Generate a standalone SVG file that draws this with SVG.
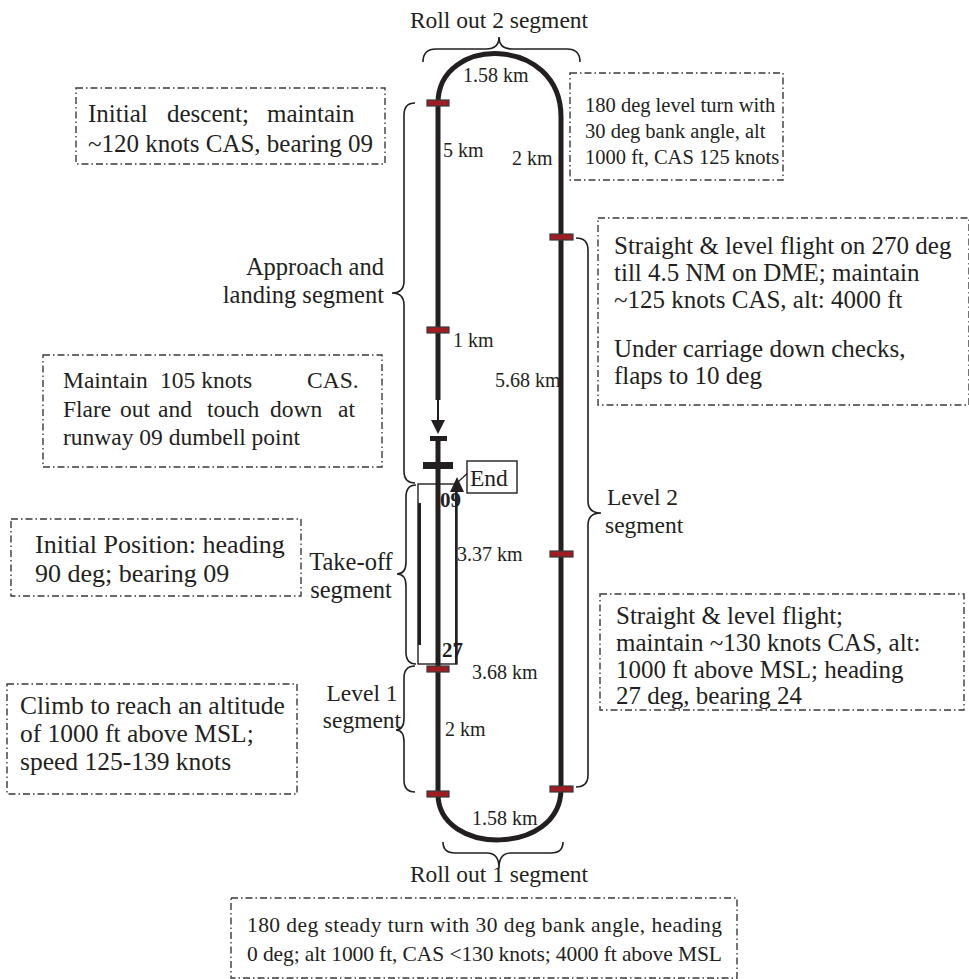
<svg xmlns="http://www.w3.org/2000/svg" width="969" height="979" viewBox="0 0 969 979">
<style>
.t{font-family:"Liberation Serif","Times New Roman",serif;fill:#231f20;font-size:23.5px}
.L{font-size:25px}
.s{font-size:20px}
.b{font-weight:bold;font-size:21px}
.box{fill:none;stroke:#3a3a3a;stroke-width:1.4;stroke-dasharray:7 3 1.5 3}
.track{fill:none;stroke:#231f20;stroke-width:5}
.mk{fill:#9e1c22;stroke:#3a3a3a;stroke-width:1.2}
.br{fill:none;stroke:#231f20;stroke-width:1.6}
.thin{fill:none;stroke:#231f20;stroke-width:1.5}
</style>
<rect width="969" height="979" fill="#fff"/>
<g id="connectors">
  <path class="track" d="M438,103 C438,35 561,35 561,117 L561,789 C561,856 438,856 438,794"/>
  <path class="track" d="M438,103 L438,400"/>
  <path class="thin" d="M438,400 L438,422" style="stroke-width:2"/>
  <polygon points="431,420 445,420 438,434" fill="#231f20"/>
  <path class="track" d="M438,438 L438,794"/>
  <rect x="430" y="436" width="17" height="5" fill="#231f20"/>
  <rect x="423" y="462" width="30" height="7" fill="#231f20"/>
  <rect x="418" y="484" width="39" height="180" class="thin" style="stroke-width:1.4"/>
  <path class="thin" d="M419.5,503 L419.5,645" style="stroke-width:3"/>
  <path class="thin" d="M456,664 L456,490" style="stroke-width:2"/>
  <polygon points="457,477 450,492 464,492" fill="#231f20"/>
  <path class="thin" d="M458,482 L472,469" style="stroke-width:1.2"/>
  <path class="br" d="M423,62 Q423,49 436,49 L486,49 Q499,49 499,37 Q499,49 512,49 L567,49 Q580,49 580,62"/>
  <path class="br" d="M443,842 Q443,853 455,853 L487,853 Q499,853 499,868 Q499,853 511,853 L551,853 Q563,853 563,842"/>
  <path class="br" d="M415,103 Q404,103 404,115 L404,281 Q404,293 392,293 Q404,293 404,305 L404,471 Q404,483 415,483"/>
  <path class="br" d="M416,485 Q406,485 406,497 L406,562 Q406,574 397,574 Q406,574 406,586 L406,652 Q406,664 416,664"/>
  <path class="br" d="M415,666 Q404,666 404,678 L404,718 Q404,730 396,730 Q404,730 404,742 L404,780 Q404,792 415,792"/>
  <path class="br" d="M576,238 Q588,238 588,250 L588,501 Q588,513 601,513 Q588,513 588,525 L588,775 Q588,787 576,787"/>
</g>
<g id="markers">
  <rect class="mk" x="427" y="100" width="22" height="6"/>
  <rect class="mk" x="427" y="327" width="22" height="6"/>
  <rect class="mk" x="427" y="666" width="22" height="6"/>
  <rect class="mk" x="427" y="791" width="22" height="6"/>
  <rect class="mk" x="550" y="234" width="23" height="6"/>
  <rect class="mk" x="550" y="551" width="23" height="6"/>
  <rect class="mk" x="550" y="786" width="23" height="6"/>
</g>
<g id="labels">
  <text class="t" x="499" y="28" text-anchor="middle">Roll out 2 segment</text>
  <text class="t s" x="463" y="82">1.58 km</text>
  <text class="t s" x="512" y="165">2 km</text>
  <text class="t s" x="443" y="157">5 km</text>
  <text class="t s" x="453" y="347">1 km</text>
  <text class="t s" x="495" y="387">5.68 km</text>
  <text class="t b" x="440" y="507">09</text>
  <text class="t s" x="457" y="561">3.37 km</text>
  <text class="t b" x="442" y="657">27</text>
  <text class="t s" x="472" y="679">3.68 km</text>
  <text class="t s" x="445" y="736">2 km</text>
  <text class="t s" x="472" y="825">1.58 km</text>
  <text class="t" x="499" y="882" text-anchor="middle">Roll out 1 segment</text>
  <text class="t" x="384" y="275" text-anchor="end" style="font-size:24.5px">Approach and</text>
  <text class="t" x="384" y="303" text-anchor="end" style="font-size:24.5px">landing segment</text>
  <text class="t" x="351" y="570" text-anchor="middle" style="font-size:24.5px">Take-off</text>
  <text class="t" x="351" y="598" text-anchor="middle" style="font-size:24.5px">segment</text>
  <text class="t" x="362" y="701" text-anchor="middle">Level 1</text>
  <text class="t" x="362" y="728" text-anchor="middle">segment</text>
  <text class="t" x="607" y="505">Level 2</text>
  <text class="t" x="605" y="533">segment</text>
</g>
<g id="end">
  <rect x="467" y="461" width="50" height="32" fill="#fff" stroke="#231f20" stroke-width="1.4"/>
  <text class="t" x="470" y="486">End</text>
</g>
<g id="box1">
  <rect class="box" x="76" y="88" width="309" height="76"/>
  <text class="t L" y="122"><tspan x="88">Initial</tspan><tspan x="167">descent;</tspan><tspan x="267">maintain</tspan></text>
  <text class="t L" x="88" y="152">~120 knots CAS, bearing 09</text>
</g>
<g id="box2">
  <rect class="box" x="570" y="73" width="213" height="107"/>
  <text class="t" x="585" y="112" style="font-size:20.5px">180 deg level turn with</text>
  <text class="t" x="585" y="138" style="font-size:20.5px">30 deg bank angle, alt</text>
  <text class="t" x="585" y="164" style="font-size:20.5px">1000 ft, CAS 125 knots</text>
</g>
<g id="box3">
  <rect class="box" x="598" y="218" width="371" height="187"/>
  <text class="t L" x="614" y="254">Straight &amp; level flight on 270 deg</text>
  <text class="t L" x="614" y="281">till 4.5 NM on DME; maintain</text>
  <text class="t L" x="614" y="308">~125 knots CAS, alt: 4000 ft</text>
  <text class="t L" x="614" y="357">Under carriage down checks,</text>
  <text class="t L" x="614" y="384">flaps to 10 deg</text>
</g>
<g id="box4">
  <rect class="box" x="43" y="355" width="339" height="112"/>
  <text class="t" y="388"><tspan x="63">Maintain</tspan><tspan x="160">105 knots</tspan><tspan x="307">CAS.</tspan></text>
  <text class="t" y="417"><tspan x="63">Flare</tspan><tspan x="120">out</tspan><tspan x="158">and</tspan><tspan x="207">touch</tspan><tspan x="270">down</tspan><tspan x="338">at</tspan></text>
  <text class="t" x="63" y="445">runway 09 dumbell point</text>
</g>
<g id="box5">
  <rect class="box" x="11" y="519" width="290" height="77"/>
  <text class="t" x="35" y="553" style="font-size:26px">Initial Position: heading</text>
  <text class="t" x="35" y="582" style="font-size:26px">90 deg; bearing 09</text>
</g>
<g id="box6">
  <rect class="box" x="600" y="594" width="364" height="116"/>
  <text class="t L" x="616" y="624">Straight &amp; level flight;</text>
  <text class="t L" x="616" y="651">maintain ~130 knots CAS, alt:</text>
  <text class="t L" x="616" y="678">1000 ft above MSL; heading</text>
  <text class="t L" x="616" y="704">27 deg, bearing 24</text>
</g>
<g id="box7">
  <rect class="box" x="7" y="684" width="290" height="110"/>
  <text class="t" x="20" y="714" style="font-size:25.5px">Climb to reach an altitude</text>
  <text class="t" x="20" y="742" style="font-size:25.5px">of 1000 ft above MSL;</text>
  <text class="t" x="20" y="770" style="font-size:25.5px">speed 125-139 knots</text>
</g>
<g id="box8">
  <rect class="box" x="231" y="898" width="506" height="80"/>
  <text class="t" x="247" y="932" textLength="475" lengthAdjust="spacing" style="font-size:21.5px">180 deg steady turn with 30 deg bank angle, heading</text>
  <text class="t" x="247" y="961" textLength="475" lengthAdjust="spacing" style="font-size:21.5px">0 deg; alt 1000 ft, CAS &lt;130 knots; 4000 ft above MSL</text>
</g>
</svg>
